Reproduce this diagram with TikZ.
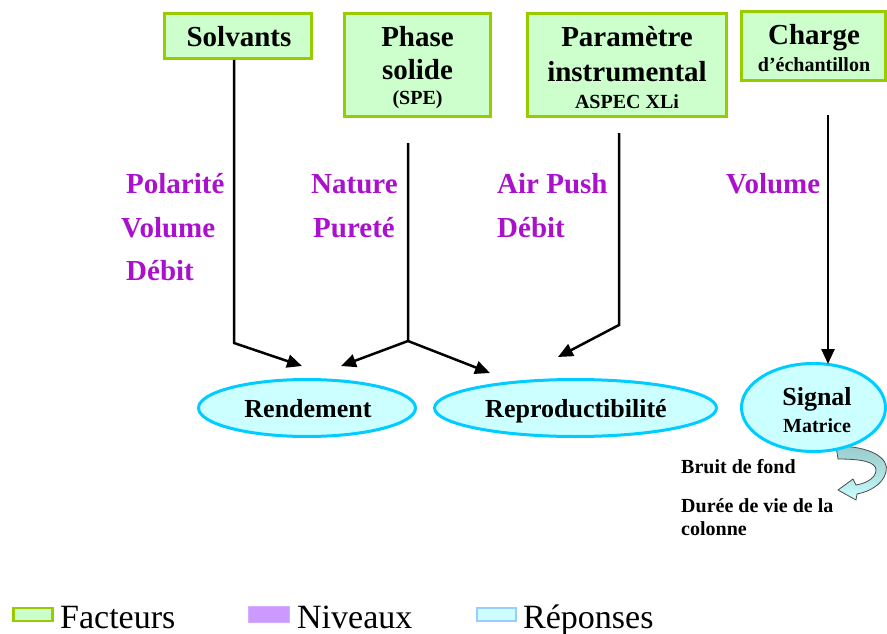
\documentclass[tikz,border=0pt]{standalone}
\usepackage{fontspec}
\setmainfont{Liberation Serif}
\usetikzlibrary{arrows.meta,shapes.geometric}
\definecolor{fgreen}{HTML}{99CC00}
\definecolor{ffill}{HTML}{CCFFCC}
\definecolor{rborder}{HTML}{00CCFF}
\definecolor{rfill}{HTML}{CCFFFF}
\definecolor{lvl}{HTML}{AA11CC}
\definecolor{lvlbox}{HTML}{CC99FF}
\definecolor{repbox}{HTML}{99CCFF}
\definecolor{arrtop}{HTML}{99CCCC}
\begin{document}
\begin{tikzpicture}[x=1pt,y=-1pt,
  factbox/.style={draw=fgreen, fill=ffill, line width=3pt, rectangle, inner sep=0pt},
  respell/.style={draw=rborder, fill=rfill, line width=3pt, ellipse, inner sep=0pt},
  bigtxt/.style={inner sep=0pt, anchor=base, font=\fontsize{29}{34}\selectfont\bfseries},
  midtxt/.style={inner sep=0pt, anchor=base, font=\fontsize{20}{24}\selectfont\bfseries},
  resptxt/.style={inner sep=0pt, anchor=base, font=\fontsize{26}{30}\selectfont\bfseries},
  lvltxt/.style={inner sep=0pt, anchor=base west, text=lvl, font=\fontsize{29}{34}\selectfont\bfseries},
  notetxt/.style={inner sep=0pt, anchor=base west, font=\fontsize{20}{24}\selectfont\bfseries},
  legtxt/.style={inner sep=0pt, anchor=base west, font=\fontsize{34}{40}\selectfont},
  conn/.style={line width=2.5pt, line join=miter},
  arr/.style={conn, -{Triangle[length=15pt,width=13pt]}}
]
\path[use as bounding box] (0,0) rectangle (887,634);

% factor boxes
\node[factbox, minimum width=147pt, minimum height=45pt] (solv) at (238,36) {};
\node[bigtxt] (solvT) at (239,47) {Solvants};

\node[factbox, minimum width=146pt, minimum height=103pt] (phase) at (417.5,65) {};
\node[bigtxt] (phaseT1) at (417.5,47) {Phase};
\node[bigtxt] (phaseT2) at (417.5,80) {solide};
\node[midtxt] (phaseT3) at (417.5,104) {(SPE)};

\node[factbox, minimum width=199pt, minimum height=103pt] (param) at (627,65) {};
\node[bigtxt] (paramT1) at (627,47) {Paramètre};
\node[bigtxt] (paramT2) at (627,82) {instrumental};
\node[midtxt] (paramT3) at (627,108) {ASPEC XLi};

\node[factbox, minimum width=144pt, minimum height=69pt] (charge) at (813.5,46) {};
\node[bigtxt] (chargeT1) at (814,45) {Charge};
\node[midtxt] (chargeT2) at (814,72) {d’échantillon};

% levels
\node[lvltxt] (l1) at (126,193) {Polarité};
\node[lvltxt] (l2) at (121,237) {Volume};
\node[lvltxt] (l3) at (126,280) {Débit};
\node[lvltxt] (l4) at (311,193) {Nature};
\node[lvltxt] (l5) at (313,237) {Pureté};
\node[lvltxt] (l6) at (497,193) {Air Push};
\node[lvltxt] (l7) at (497,237) {Débit};
\node[lvltxt] (l8) at (726,193) {Volume};

% response ellipses
\node[respell, minimum width=217pt, minimum height=57pt] (rend) at (307,408) {};
\node[resptxt] (rendT) at (308,417) {Rendement};
\node[respell, minimum width=282pt, minimum height=57pt] (repro) at (575.5,408) {};
\node[resptxt] (reproT) at (576,417) {Reproductibilité};

% curved block arrow under Signal
\draw[line width=0.8pt, draw=black!70, top color=arrtop, bottom color=rfill, middle color=arrtop!60!rfill]
  (836,446) .. controls (870,446) and (890,458) .. (886,472)
  .. controls (883,485) and (868,492) .. (857,494)
  -- (856,500) -- (838,490) -- (853,479) -- (856,485)
  .. controls (868,483) and (876,477) .. (876,470)
  .. controls (876,462) and (862,459) .. (838,459) -- cycle;

\node[respell, minimum width=144pt, minimum height=88pt] (signal) at (813.5,407.5) {};
\node[resptxt] (signalT1) at (817,405) {Signal};
\node[midtxt] (signalT2) at (817,432) {Matrice};

\node[notetxt] (n1) at (681,473) {Bruit de fond};
\node[notetxt] (n2) at (681,512) {Durée de vie de la};
\node[notetxt] (n3) at (681,535) {colonne};

% connectors
\coordinate (sa) at (234,60);
\coordinate (sb) at (234,343);
\coordinate (st) at (302,366);
\coordinate (pa) at (408,143);
\coordinate (pb) at (408,341);
\coordinate (pt1) at (341,366);
\coordinate (pt2) at (490,373);
\coordinate (ma) at (619,133);
\coordinate (mb) at (619,325);
\coordinate (mt) at (558,357);
\coordinate (ca) at (828,115);
\coordinate (ct) at (828,364);

\draw[arr] (sa) -- (sb) -- (st);
\draw[arr] (pa) -- (pb) -- (pt1);
\draw[arr] (pb) -- (pt2);
\draw[arr] (ma) -- (mb) -- (mt);
\draw[arr] (ca) -- (ct);

% legend
\node[draw=fgreen, fill=ffill, line width=2.5pt, minimum width=39pt, minimum height=13pt, inner sep=0pt] (lg1) at (33,614.5) {};
\node[legtxt] (lg1T) at (60,628) {Facteurs};
\node[draw=lvlbox!80!white, fill=lvlbox, line width=1pt, minimum width=41pt, minimum height=16pt, inner sep=0pt] (lg2) at (269,614.5) {};
\node[legtxt] (lg2T) at (297,628) {Niveaux};
\node[draw=repbox, fill=rfill, line width=2.5pt, minimum width=39pt, minimum height=13pt, inner sep=0pt] (lg3) at (496.5,614.5) {};
\node[legtxt] (lg3T) at (523,628) {Réponses};
\end{tikzpicture}
\end{document}
